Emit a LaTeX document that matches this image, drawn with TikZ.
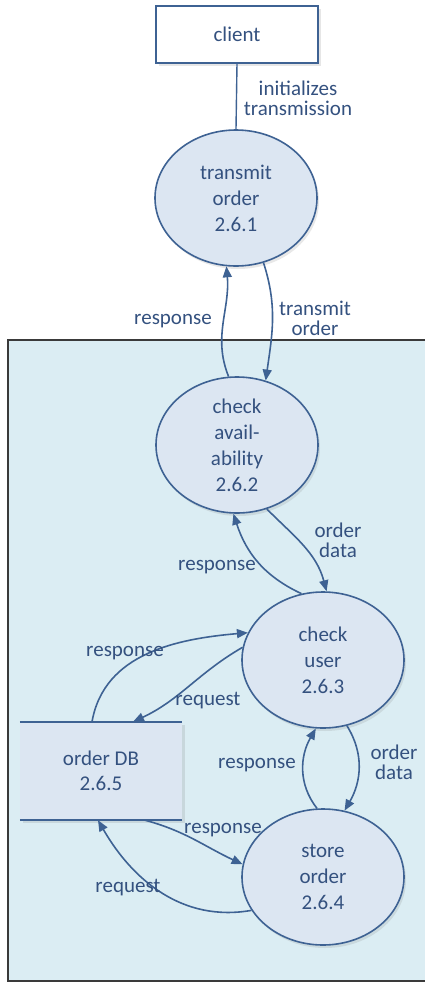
\documentclass[tikz,border=0pt]{standalone}
\usepackage{fontspec}
\setmainfont{Carlito}
\usetikzlibrary{arrows.meta,shadows,positioning,shapes.geometric}
\definecolor{textc}{HTML}{34517F}
\definecolor{linec}{HTML}{3E6293}
\definecolor{ellfill}{HTML}{DCE6F2}
\definecolor{panelfill}{HTML}{DBEDF3}
\definecolor{panelborder}{HTML}{3A3A3A}
\tikzset{
  proc/.style={ellipse, draw=linec, line width=1.6pt, fill=ellfill,
    minimum width=162pt, minimum height=136pt, inner sep=0pt, inner ysep=-6pt,
    align=center, text=textc, font=\fontsize{21}{26}\selectfont,
    drop shadow={opacity=0.18, shadow xshift=2pt, shadow yshift=-3pt}},
  flow/.style={draw=linec, line width=1.6pt, -{Triangle[length=11pt,width=9pt]}},
  lbl/.style={text=textc, align=center, font=\fontsize{21}{20}\selectfont, inner sep=0pt},
}
\begin{document}
\begin{tikzpicture}[x=1pt,y=-1pt]
\useasboundingbox (0,0) rectangle (424,983);
% panel
\draw[fill=panelfill, draw=panelborder, line width=1.2pt] (8,340) rectangle (445,981);
% client
\node[draw=linec, line width=1.4pt, fill=white, minimum width=162pt, minimum height=57pt,
  text=textc, font=\fontsize{21}{26}\selectfont,
  drop shadow={opacity=0.2, shadow xshift=3pt, shadow yshift=-3pt}] (client) at (237,34.5) {client};
% processes
\node[proc] (n1) at (236,198) {transmit\\order\\2.6.1};
\node[proc] (n2) at (237,445) {check\\avail-\\ability\\2.6.2};
\node[proc] (n3) at (323,660) {check\\user\\2.6.3};
\node[proc] (n4) at (323,877) {store\\order\\2.6.4};
% data store
\node[fill=ellfill, minimum width=162pt, minimum height=98pt, inner sep=0pt,
  align=center, text=textc, font=\fontsize{21}{25}\selectfont,
  drop shadow={opacity=0.2, shadow xshift=3pt, shadow yshift=-3pt}] (db) at (101,771) {order DB\\2.6.5};
\draw[draw=linec, line width=1.6pt] (db.north west) -- (db.north east);
\draw[draw=linec, line width=1.6pt] (db.south west) -- (db.south east);
% connectors
\draw[draw=linec, line width=1.4pt] (client.south) -- (n1.north);
\node[lbl] (l0) at (298,98) {initializes\\transmission};

\draw[flow] (n2.97) to[out=112, in=-85] (n1.-98);
\node[lbl] (l1) at (173,321) {response};
\draw[flow] (n1.-67) to[out=-72, in=82] (n2.66);
\node[lbl] (l2) at (315,318) {transmit\\order};

\draw[flow] (n2.-65) to[out=-45, in=105] (n3.87);
\node[lbl] (l3) at (338,540) {order\\data};
\draw[flow] (n3.108) to[out=155, in=-72] (n2.-93);
\node[lbl] (l4) at (217,567) {response};

\draw[flow] ([xshift=-9pt]db.north) to[out=80, in=185] (n3.160);
\node[lbl] (l5) at (125,653) {response};
\draw[flow] (n3.171) to[out=-150, in=25] ([xshift=32pt]db.north);
\node[lbl] (l6) at (208,701) {request};

\draw[flow] (n4.95) to[out=128, in=-120] (n3.-96);
\node[lbl] (l7) at (257,765) {response};
\draw[flow] (n3.-70) to[out=-58, in=60] (n4.72);
\node[lbl] (l8) at (394,762) {order\\data};

\draw[flow] ([xshift=44pt]db.south) to[out=-15, in=155] (n4.171);
\node[lbl] (l9) at (223,830) {response};
\draw[flow] (n4.205) to[out=190, in=-60] ([xshift=-3pt]db.south);
\node[lbl] (l10) at (128,888) {request};
\end{tikzpicture}
\end{document}
